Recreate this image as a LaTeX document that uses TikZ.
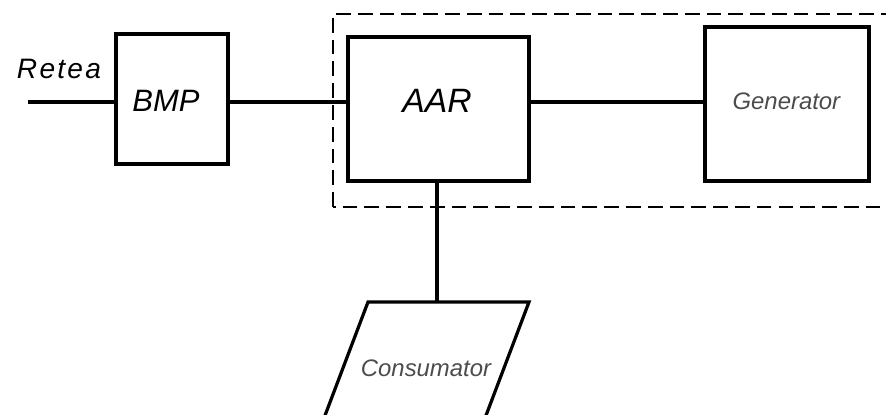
\documentclass[tikz,border=0pt]{standalone}
\usepackage{fontspec}
\setmainfont{Liberation Sans}
\usepackage{tikz}
\usetikzlibrary{positioning, shapes.geometric, calc}

\begin{document}
\begin{tikzpicture}[
    blk/.style={draw, line width=2.3pt, minimum width=2.8cm, minimum height=3.25cm, inner sep=0pt},
    wire/.style={line width=2.3pt},
    frame/.style={line width=1.5pt, dash pattern=on 10.5pt off 5pt},
    big/.style={font=\fontsize{24}{26}\selectfont\itshape},
    thin/.style={font=\fontsize{17}{19}\selectfont\itshape, text=black!70}
]
\useasboundingbox (0,0) rectangle (22.15,10.375);
\clip (0,0) rectangle (22.15,10.375);

% Dashed region
\draw[frame] (8.325,5.2) rectangle (22.6,10.025);

% Blocks
\coordinate (bus) at (0,7.825);
\coordinate (in) at (0.7,7.825);
\node[blk] (bmp) at (4.3,7.9) {};
\node[blk, minimum width=4.525cm, minimum height=3.6cm] (aar) at (10.9625,7.65) {};
\node[blk, minimum width=4.1cm, minimum height=3.85cm] (gen) at (19.675,7.775) {};

% Consumer (slanted box, runs off the bottom)
\coordinate (ctl) at (9.2,2.825);
\coordinate (ctr) at (13.225,2.825);
\draw[line width=2.3pt] ($(ctl)+(-1.26,-3.325)$) -- (ctl) -- (ctr) -- ($(ctr)+(-1.26,-3.325)$);
\node[thin] (con) at (10.65,1.175) {Consumator};

% Labels
\node[big, font=\fontsize{20}{22}\selectfont\itshape\addfontfeature{LetterSpace=8}] (retea) at (1.475,8.66) {Retea};
\node[big, font=\fontsize{22}{24}\selectfont\itshape] (bmplbl) at (4.15,7.85) {BMP};
\node[big] (aarlbl) at (10.925,7.85) {AAR};
\node[thin] (genlbl) at (19.66,7.85) {Generator};

% Wires
\draw[wire] (in) -- (bmp.west |- bus);
\draw[wire] (bmp.east |- bus) -- (aar.west |- bus);
\draw[wire] (aar.east |- bus) -- (gen.west |- bus);
\draw[wire] ($(aar.south)+(-0.04,0)$) -- ($(aar.south |- ctl)+(-0.04,0)$);

\end{tikzpicture}
\end{document}
